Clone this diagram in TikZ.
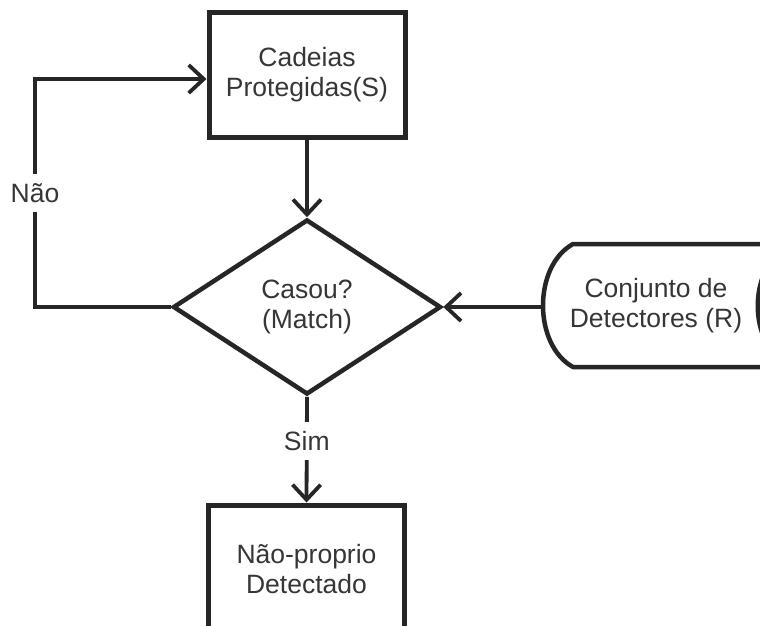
\documentclass[tikz,border=0pt]{standalone}
\usepackage{fontspec}
\setmainfont{Liberation Sans}
\usetikzlibrary{arrows.meta,shapes.geometric}
\definecolor{ink}{HTML}{262626}
\definecolor{txt}{HTML}{363636}
\begin{document}
\begin{tikzpicture}[x=1pt,y=-1pt,
  every node/.style={font=\fontsize{26.5}{30}\selectfont, text=txt, align=center},
  proc/.style={draw=ink, line width=5pt, fill=white, minimum width=196pt, inner sep=0pt},
  decide/.style={diamond, draw=ink, line width=4.5pt, minimum width=268pt, minimum height=175pt, inner sep=0pt},
  link/.style={draw=ink, line width=3.8pt, -{Straight Barb[length=15pt,width=28pt,line width=3.8pt]}},
  lbl/.style={fill=white, inner xsep=3pt, inner ysep=9pt}]
\useasboundingbox (0,0) rectangle (760,625);
\fill[white] (0,0) rectangle (760,625);

% process boxes and decision
\node[proc, minimum height=125pt] (S) at (307,74.5) {Cadeias\\Protegidas(S)};
\node[decide] (M) at (307,307) {Casou?\\(Match)};
\node[proc, minimum height=128pt] (D) at (306.5,569) {Não-proprio\\Detectado};

% stored detector set
\draw[ink, line width=4.5pt, line join=round, fill=white]
  (573,244) -- (790,244) .. controls (747,267) and (747,345) .. (790,367)
  -- (573,367) .. controls (533,345) and (533,266) .. cycle;
\node (R) at (656,306) {Conjunto de\\Detectores (R)};
\coordinate (Rin) at (543,307);

% connectors
\draw[link] (S.south) -- (M.north);
\draw[link] (Rin) -- (M.east);
\draw[link] (M.south) -- node[lbl, pos=0.42] (sim) {Sim} (D.north);
\draw[link] (M.west) -- (35,307) -- node[lbl, pos=0.5] (nao) {Não} (35,79) -- (S.west |- 0,79);
\end{tikzpicture}
\end{document}
